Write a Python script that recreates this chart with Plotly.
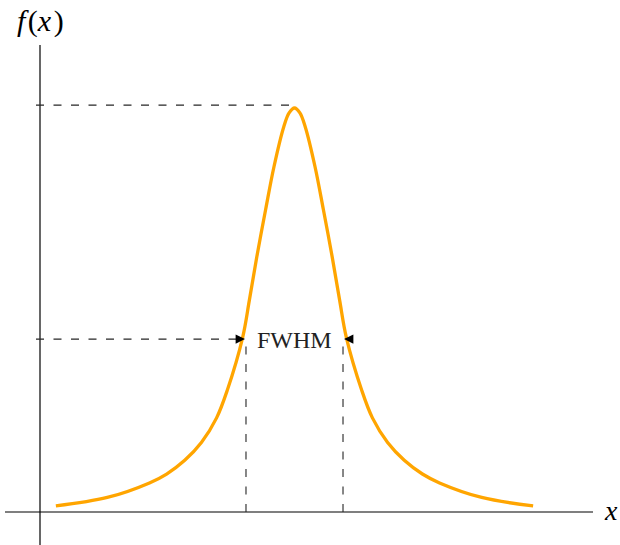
import plotly.graph_objects as go

# ---- data (x in half-widths from centre, y as fraction of peak) ----
curve_x = [-4.87, -3.82, -2.96, -2.61, -2.24, -1.90, -1.59, -1.37, -1.06,
           -0.92, -0.77, -0.59, -0.42, -0.22, -0.11, 0.0, 0.11, 0.22, 0.42, 0.59, 0.77,
           0.92, 1.06, 1.37, 1.59, 1.90, 2.24, 2.61, 2.96, 3.82, 4.87]
curve_y = [0.015, 0.036, 0.072, 0.094, 0.128, 0.172, 0.233, 0.302, 0.431,
           0.525, 0.631, 0.748, 0.854, 0.953, 0.988, 1.0, 0.988, 0.953, 0.854, 0.748, 0.631,
           0.525, 0.431, 0.302, 0.233, 0.172, 0.128, 0.094, 0.072, 0.036, 0.015]
peak_x = 0.0
peak_level = 1.007
half_level = 0.428
fwhm_left = -0.99
fwhm_right = 0.99
label_fwhm = "FWHM"
label_x = "<i>x</i>"
label_fx = "<i>f</i>\u200a(<i>x</i>\u200a)"

# ---- geometry (figure fills the 620x545 page, body margin removed) ----
W, H = 620, 545
X0, X1 = (0 - 294.5) / 49.0, (620 - 294.5) / 49.0
Y0, Y1 = (512 - 545) / 404.0, (512 - 0) / 404.0
yaxis_x = (40 - 294.5) / 49.0
dash_start = (36 - 294.5) / 49.0
px = (X1 - X0) / W

DASH = "8px,9.5px"
DCOL = "#262626"

fig = go.Figure()
fig.add_trace(go.Scatter(x=curve_x, y=curve_y, mode="lines",
                         line=dict(color="#FFA500", width=3.3, shape="spline", smoothing=1.0),
                         hoverinfo="skip", showlegend=False))

shapes = [
    # x axis
    dict(type="line", x0=(5 - 294.5) / 49.0, x1=(593 - 294.5) / 49.0, y0=0, y1=0,
         line=dict(color="#555555", width=1.6)),
    # y axis
    dict(type="line", x0=yaxis_x, x1=yaxis_x, y0=Y0, y1=(512 - 45) / 404.0,
         line=dict(color="black", width=1.2)),
    # peak level dashed
    dict(type="line", x0=dash_start, x1=peak_x, y0=peak_level, y1=peak_level,
         line=dict(color=DCOL, width=1.1, dash=DASH)),
    # half level dashed (to left FWHM point)
    dict(type="line", x0=dash_start, x1=fwhm_left - 6 * px, y0=half_level, y1=half_level,
         line=dict(color=DCOL, width=1.1, dash=DASH)),
    # verticals
    dict(type="line", x0=fwhm_left, x1=fwhm_left, y0=0, y1=half_level,
         line=dict(color=DCOL, width=1.1, dash=DASH)),
    dict(type="line", x0=fwhm_right, x1=fwhm_right, y0=0, y1=half_level,
         line=dict(color=DCOL, width=1.1, dash=DASH)),
]

annotations = [
    dict(x=fwhm_left - 1 * px, y=half_level, ax=fwhm_left - 10 * px, ay=half_level,
         xref="x", yref="y", axref="x", ayref="y", text="", showarrow=True,
         arrowhead=2, arrowsize=1.7, arrowwidth=1.1, arrowcolor="black", standoff=0),
    dict(x=fwhm_right + 1 * px, y=half_level, ax=fwhm_right + 10 * px, ay=half_level,
         xref="x", yref="y", axref="x", ayref="y", text="", showarrow=True,
         arrowhead=2, arrowsize=1.7, arrowwidth=1.1, arrowcolor="black", standoff=0),
    dict(x=0, y=half_level, xref="x", yref="y", text=label_fwhm, showarrow=False,
         font=dict(family="Liberation Serif", size=24, color="#222"),
         xanchor="center", yanchor="middle", yshift=-1),
    dict(x=yaxis_x, y=(512 - 21) / 404.0, xref="x", yref="y", text=label_fx, showarrow=False,
         font=dict(family="Liberation Serif", size=30, color="black"),
         xanchor="center", yanchor="middle"),
    dict(x=(611 - 294.5) / 49.0, y=0.0, xref="x", yref="y", text=label_x, showarrow=False,
         font=dict(family="Liberation Serif", size=28, color="black"),
         xanchor="center", yanchor="middle", yshift=2),
]

fig.update_layout(
    width=W, height=H,
    margin=dict(l=0, r=0, t=0, b=0),
    paper_bgcolor="white", plot_bgcolor="white",
    xaxis=dict(range=[X0, X1], visible=False, fixedrange=True),
    yaxis=dict(range=[Y0, Y1], visible=False, fixedrange=True),
    shapes=shapes, annotations=annotations,
    showlegend=False,
)

fig.write_html("out.html",
               config={"displayModeBar": False, "staticPlot": True},
               post_script="document.body.style.margin='0';document.body.style.overflow='hidden';")
